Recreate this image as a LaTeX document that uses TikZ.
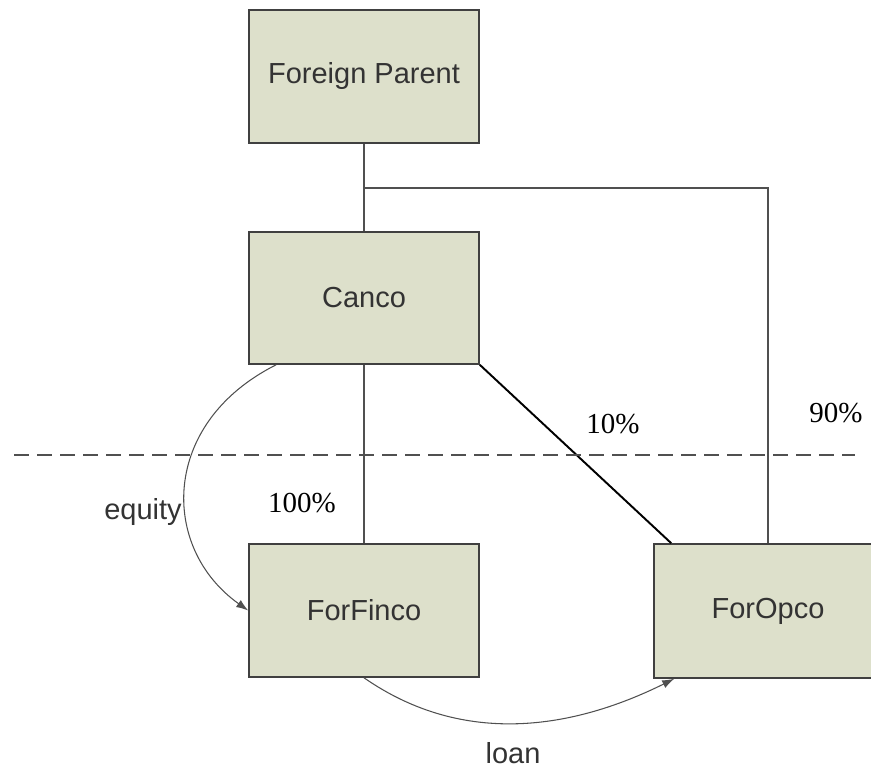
\documentclass[tikz,border=0pt]{standalone}
\usepackage{fontspec}
\setmainfont{Liberation Serif}
\newfontfamily\arialfont{Liberation Sans}
\usepackage{tikz}
\usetikzlibrary{calc,arrows.meta}

\definecolor{boxfill}{RGB}{221,224,203}
\definecolor{boxline}{RGB}{64,64,64}
\definecolor{connline}{RGB}{80,80,80}

\begin{document}
\begin{tikzpicture}[
    entity/.style={draw=boxline, line width=0.9pt, fill=boxfill, minimum width=4.6cm,
        minimum height=2.66cm, inner sep=0pt, font=\arialfont\fontsize{16.5}{20}\selectfont,
        text=black!80},
    conn/.style={draw=connline, line width=0.6pt},
    pct/.style={font=\fontsize{16.5}{20}\selectfont},
    flow/.style={font=\arialfont\fontsize{16.5}{20}\selectfont, text=black!80}
]
    \useasboundingbox (0,0) rectangle (17.42,15.36);

    % Drawing the companies
    \node[entity] (fp) at (7.28,13.83) {Foreign Parent};
    \node[entity, minimum height=2.64cm] (canco) at (7.28,9.40) {Canco};
    \node[entity] (forfin) at (7.28,3.15) {ForFinco};
    \node[entity, minimum width=4.56cm, minimum height=2.68cm] (forop) at (15.36,3.14) {ForOpco};

    % Ownership lines
    \coordinate (split) at (7.28,11.6);
    \draw[conn] (fp.south) -- (canco.north);
    \draw[conn] (split) -| (forop.north);
    \draw[conn] (canco.south) -- (forfin.north);
    \draw[black, line width=1.1pt] (canco.south east) -- ([xshift=0.36cm]forop.north west);

    % Border line
    \draw[connline, line width=1.1pt, dash pattern=on 0.3cm off 0.16cm] (0.28,6.26) -- (17.1,6.26);

    % Equity and loan flows
    \draw[conn, -{Latex[length=2.4mm,width=1.7mm]}] ([xshift=0.56cm]canco.south west)
        .. controls (3.2,6.9) and (3.2,4.4) .. (forfin.west);
    \draw[conn, -{Latex[length=2.4mm,width=1.7mm]}] (forfin.south)
        .. controls (9.3,0.4) and (11.5,0.8) .. ([xshift=0.42cm]forop.south west);

    % Labels
    \node[pct] (p10) at (12.26,6.88) {10\%};
    \node[pct] (p90) at (16.72,7.10) {90\%};
    \node[pct] (p100) at (6.04,5.30) {100\%};
    \node[flow] (equity) at (2.86,5.12) {equity};
    \node[flow] (loan) at (10.26,0.30) {loan};
\end{tikzpicture}
\end{document}
